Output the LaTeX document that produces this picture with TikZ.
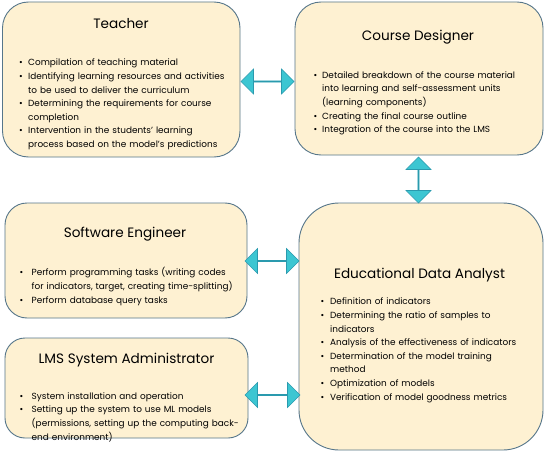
\documentclass[tikz,border=0pt]{standalone}
\usepackage{fontspec}
\setmainfont{Poppins}
\usetikzlibrary{shapes.arrows}

\definecolor{boxfill}{HTML}{FEF1D2}
\definecolor{boxline}{HTML}{56768A}
\definecolor{arrowfill}{HTML}{3CC6D2}
\definecolor{arrowline}{HTML}{2A9AAE}

\tikzset{
  role/.style={draw=boxline, fill=boxfill, line width=0.9pt, rectangle, inner sep=0pt},
  roletitle/.style={font=\fontsize{13.6}{16}\selectfont, anchor=base, inner sep=0pt},
  roletext/.style={anchor=north west, inner sep=0pt, text width=#1, align=left,
    font=\fontsize{8.9}{13.6}\selectfont},
  link/.style={double arrow, draw=arrowline, fill=arrowfill, line width=0.6pt,
    inner sep=0pt, double arrow head extend=7pt, double arrow tip angle=90,
    minimum width=25pt},
}
% one bulleted entry with a hanging indent of #1
\newcommand\bitem[2]{\par\noindent\hangindent=#1\hangafter=1\makebox[#1][l]{\textbullet}#2\par}

\begin{document}
\begin{tikzpicture}[x=1pt, y=-1pt]
\useasboundingbox[fill=white] (0,0) rectangle (544,452);

% role boxes
\node[role, rounded corners=26pt, minimum width=237.5pt, minimum height=155pt] (teacher) at (121.25,79.5) {};
\node[role, rounded corners=26pt, minimum width=248pt, minimum height=153pt] (designer) at (419,78.5) {};
\node[role, rounded corners=22pt, minimum width=242pt, minimum height=115pt] (engineer) at (126,260.5) {};
\node[role, rounded corners=20pt, minimum width=243pt, minimum height=100pt] (admin) at (126.5,388) {};
\node[role, rounded corners=40pt, minimum width=244pt, minimum height=247pt] (analyst) at (421,326.5) {};

% links between the roles
\node[link, minimum height=53pt] (teacher-designer) at (267.5,81.5) {};
\node[link, minimum height=46pt, shape border rotate=90] (designer-analyst) at (418.5,180) {};
\node[link, minimum height=54pt] (engineer-analyst) at (272,261) {};
\node[link, minimum height=55pt] (admin-analyst) at (272.5,395) {};

% titles
\node[roletitle] (t-teacher) at (121,29) {Teacher};
\node[roletitle] (t-designer) at (418,41) {Course Designer};
\node[roletitle] (t-engineer) at (125,237.5) {Software Engineer};
\node[roletitle] (t-admin) at (126.5,363) {LMS System Administrator};
\node[roletitle] (t-analyst) at (419.5,278) {Educational Data Analyst};

% task lists
\node[roletext=225pt] (l-teacher) at (19,52) {%
  \bitem{9pt}{Compilation of teaching material}
  \bitem{9pt}{Identifying learning resources and activities\newline to be used to deliver the curriculum}
  \bitem{9pt}{Determining the requirements for course\newline completion}
  \bitem{9pt}{Intervention in the students’ learning\newline process based on the model’s predictions}};
\node[roletext=228pt] (l-designer) at (313.5,64.5) {%
  \bitem{8.5pt}{Detailed breakdown of the course material\newline into learning and self-assessment units\newline (learning components)}
  \bitem{8.5pt}{Creating the final course outline}
  \bitem{8.5pt}{Integration of the course into the LMS}};
\node[roletext=228pt] (l-engineer) at (19.5,262) {%
  \bitem{12pt}{Perform programming tasks (writing codes\newline for indicators, target, creating time-splitting)}
  \bitem{12pt}{Perform database query tasks}};
\node[roletext=228pt] (l-admin) at (19.5,385.5) {%
  \bitem{12pt}{System installation and operation}
  \bitem{12pt}{Setting up the system to use ML models\newline (permissions, setting up the computing back-\newline end environment)}};
\node[roletext=228pt] (l-analyst) at (320.5,291) {%
  \bitem{9.5pt}{Definition of indicators}
  \bitem{9.5pt}{Determining the ratio of samples to\newline indicators}
  \bitem{9.5pt}{Analysis of the effectiveness of indicators}
  \bitem{9.5pt}{Determination of the model training\newline method}
  \bitem{9.5pt}{Optimization of models}
  \bitem{9.5pt}{Verification of model goodness metrics}};
\end{tikzpicture}
\end{document}
